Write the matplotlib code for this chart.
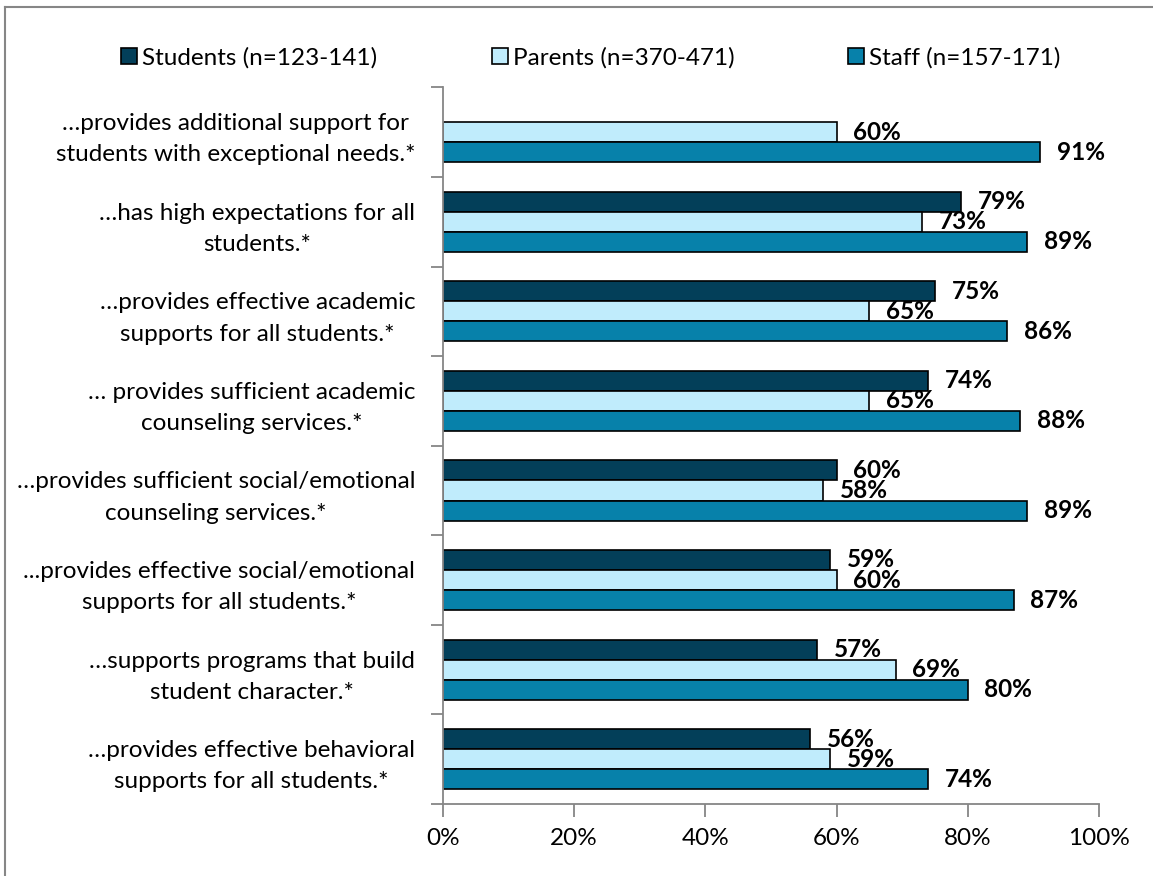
import numpy as np
import matplotlib.pyplot as plt
from matplotlib.lines import Line2D

plt.rcParams['font.family'] = ['Lato', 'DejaVu Sans']

categories = [
    "\u2026provides additional support for\nstudents with exceptional needs.*",
    "\u2026has high expectations for all\nstudents.*",
    "\u2026provides effective academic\nsupports for all students.*",
    "\u2026 provides sufficient academic\ncounseling services.*",
    "\u2026provides sufficient social/emotional\ncounseling services.*",
    "...provides effective social/emotional\nsupports for all students.*",
    "\u2026supports programs that build\nstudent character.*",
    "\u2026provides effective behavioral\nsupports for all students.*",
]
series_names = ["Students (n=123-141)", "Parents (n=370-471)", "Staff (n=157-171)"]
students = [np.nan, 79, 75, 74, 60, 59, 57, 56]
parents = [60, 73, 65, 65, 58, 60, 69, 59]
staff = [91, 89, 86, 88, 89, 87, 80, 74]
x_ticks = [0, 20, 40, 60, 80, 100]

colors = ['#033F59', '#C0ECFC', '#0781AA']
grey = '#868686'
fs = 17.5

fig = plt.figure(figsize=(11.53, 8.76), dpi=100)
ax = fig.add_axes([443/1153, 1 - 804/876, 656/1153, (804 - 87.4)/876])

y = np.arange(len(categories))
h = 0.224
for k, (vals, name) in enumerate(zip([students, parents, staff], series_names)):
    vals = np.array(vals, dtype=float)
    ok = ~np.isnan(vals)
    pos = y + (k - 1)*h
    ax.barh(pos[ok], vals[ok], height=h, color=colors[k], edgecolor='black',
            linewidth=1.2, label=name)
    for p, v in zip(pos[ok], vals[ok]):
        ax.annotate(f"{v:.0f}%", (v, p), xytext=(12, 0), textcoords='offset points',
                    va='center', ha='left', fontsize=fs, fontweight='bold')

ax.set_xlim(0, 100)
ax.set_ylim(len(categories) - 0.5, -0.5)
ax.set_xticks(x_ticks)
ax.set_xticklabels([f"{t}%" for t in x_ticks], fontsize=fs)
# ticks sit between categories, labels at the centres
ax.set_yticks(np.arange(len(categories) + 1) - 0.5)
ax.set_yticklabels([])
ax.set_yticks(y, minor=True)
ax.set_yticklabels(categories, minor=True, fontsize=fs, multialignment='center',
                   linespacing=1.6)
ax.tick_params(axis='y', which='minor', length=0, pad=20)
ax.tick_params(axis='both', which='major', length=9, width=1.3, color=grey,
               direction='out')
ax.tick_params(axis='x', pad=8)
for s in ['top', 'right']:
    ax.spines[s].set_visible(False)
for s in ['left', 'bottom']:
    ax.spines[s].set_color(grey)
    ax.spines[s].set_linewidth(1.3)

ax.legend(loc='center', bbox_to_anchor=(591/1153, 1 - 58/876), bbox_transform=fig.transFigure,
          ncol=3, frameon=False, fontsize=fs, handlelength=0.66, handleheight=0.66,
          handletextpad=0.2, columnspacing=4.7, borderaxespad=0)

# outer chart frame
fig.add_artist(Line2D([5/1153, 5/1153], [0, 1 - 6.5/876], color=grey, lw=1.5))
fig.add_artist(Line2D([5/1153, 1], [1 - 6.5/876, 1 - 6.5/876], color=grey, lw=1.5))

fig.savefig('out.png', dpi=100)
